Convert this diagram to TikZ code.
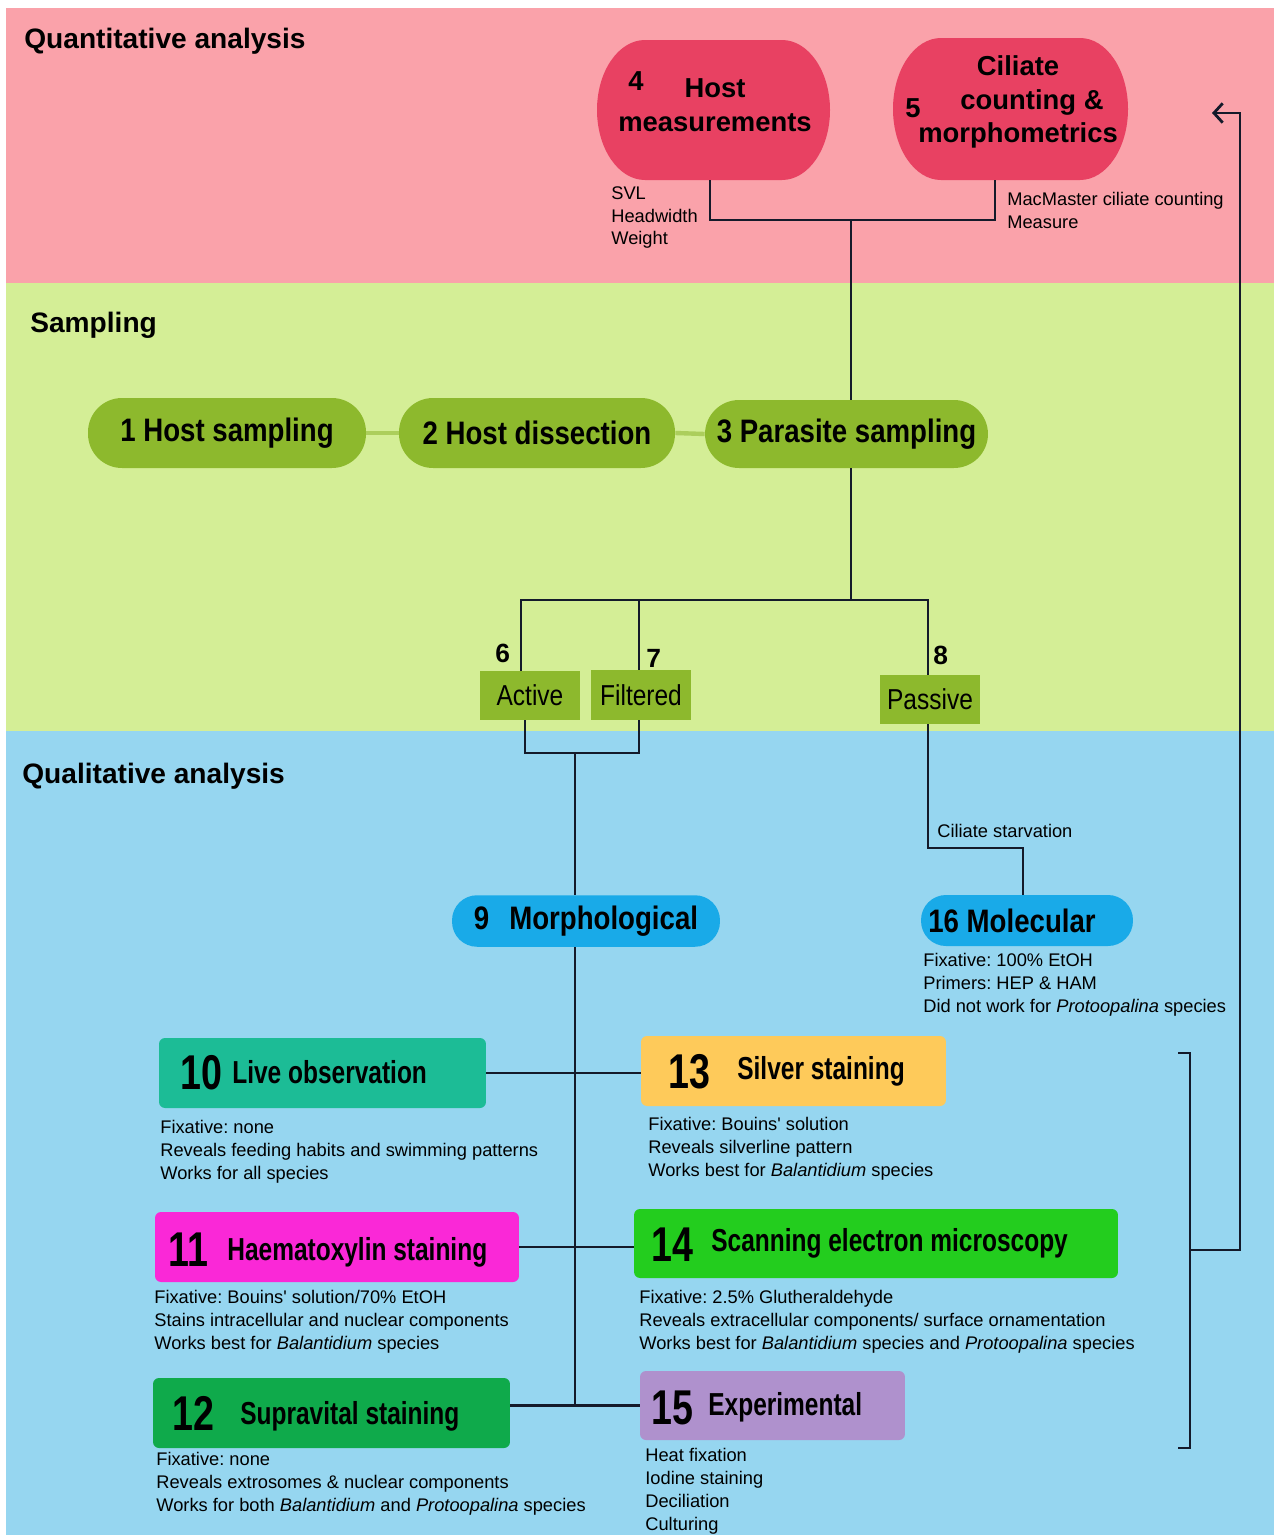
\documentclass[tikz,border=0pt]{standalone}
\usepackage{fontspec}
\setmainfont{Liberation Sans}
\newfontfamily\condA[FakeStretch=0.85]{Liberation Sans}
\newfontfamily\condB[FakeStretch=0.77]{Liberation Sans}
\usetikzlibrary{arrows.meta,calc}
\frenchspacing

\definecolor{bandq}{RGB}{250,162,170}
\definecolor{bands}{RGB}{212,238,150}
\definecolor{bandl}{RGB}{150,214,240}
\definecolor{crim}{RGB}{232,65,98}
\definecolor{olive}{RGB}{141,185,45}
\definecolor{olivelink}{RGB}{172,206,92}
\definecolor{skyb}{RGB}{25,170,232}
\definecolor{teal10}{RGB}{28,188,150}
\definecolor{gold13}{RGB}{254,202,90}
\definecolor{mag11}{RGB}{250,40,215}
\definecolor{lime14}{RGB}{35,205,30}
\definecolor{green12}{RGB}{15,170,75}
\definecolor{lav15}{RGB}{175,145,205}
\definecolor{ink}{RGB}{20,26,42}

\begin{document}
\begin{tikzpicture}[x=0.02cm,y=-0.02cm,
  link/.style={draw=ink,line width=1.6pt},
  heading/.style={anchor=base west,inner sep=0,font=\fontsize{16}{19}\selectfont\bfseries},
  note/.style={anchor=north west,inner sep=0,align=left,font=\fontsize{10.4}{13.04}\selectfont},
  qtext/.style={inner sep=0,align=center,font=\fontsize{15.6}{19.3}\selectfont\bfseries},
  qnum/.style={anchor=base west,inner sep=0,font=\fontsize{15.6}{19}\selectfont\bfseries},
  pill/.style={fill=olive,rounded corners=0.68cm,inner sep=0,minimum height=1.4cm,font=\condA\bfseries\fontsize{18.5}{22}\selectfont},
  route/.style={fill=olive,inner sep=0,minimum width=2cm,minimum height=0.98cm,font=\condA\fontsize{16.4}{19}\selectfont},
  rnum/.style={anchor=base west,inner sep=0,font=\fontsize{15}{18}\selectfont\bfseries},
  branch/.style={fill=skyb,rounded corners=0.5cm,inner sep=0,minimum height=1.03cm,font=\condA\bfseries\fontsize{18.5}{22}\selectfont},
  methodbox/.style={rounded corners=0.12cm,inner sep=0,minimum height=1.4cm},
  mnum/.style={anchor=base west,inner sep=0,font=\condB\bfseries\fontsize{27.8}{30}\selectfont},
  mtitle/.style={anchor=base west,inner sep=0,font=\condB\bfseries\fontsize{18.1}{21}\selectfont}
]
\useasboundingbox (0,0) rectangle (1274,1535);
\fill[white] (0,0) rectangle (1274,1535);

% background bands
\fill[bandq] (6,8) rectangle (1274,283);
\fill[bands] (6,283) rectangle (1274,731);
\fill[bandl] (6,731) rectangle (1274,1535);

\node[heading] (hq) at (24,48) {Quantitative analysis};
\node[heading] (hs) at (30,332) {Sampling};
\node[heading] (hl) at (22,783) {Qualitative analysis};

% quantitative analysis
\node[inner sep=0,minimum width=4.66cm,minimum height=2.8cm] (n4) at (713.5,110) {};
\node[inner sep=0,minimum width=4.7cm,minimum height=2.84cm] (n5) at (1010.5,109) {};
\fill[crim] (645,40) -- (782,40) .. controls (808.5,40) and (830,71.3) .. (830,110)
  .. controls (830,148.7) and (808.5,180) .. (782,180) -- (645,180)
  .. controls (618.5,180) and (597,148.7) .. (597,110)
  .. controls (597,71.3) and (618.5,40) .. (645,40) -- cycle;
\fill[crim] (941,38) -- (1080,38) .. controls (1106.5,38) and (1128,69.8) .. (1128,109)
  .. controls (1128,148.2) and (1106.5,180) .. (1080,180) -- (941,180)
  .. controls (914.5,180) and (893,148.2) .. (893,109)
  .. controls (893,69.8) and (914.5,38) .. (941,38) -- cycle;
\node[qnum] (k4) at (628,90) {4};
\node[qtext] (t4) at (715,105) {Host\\measurements};
\node[qnum] (k5) at (905,117) {5};
\node[qtext] (t5) at (1018,102) {Ciliate\\\hspace*{0.56cm}counting \&\\morphometrics};
\node[note] (d4) at (611,186) {SVL\\Headwidth\\Weight};
\node[note] (d5) at (1007,192) {MacMaster ciliate counting\\Measure};

% sampling
\node[pill,minimum width=5.56cm] (n1) at (227,433) {1 Host sampling};
\node[pill,minimum width=5.52cm] (n2) at (537,433) {2 Host dissection};
\node[pill,minimum width=5.66cm,minimum height=1.36cm] (n3) at (846.5,434) {3 Parasite sampling};
\draw[olivelink,line width=2.5pt] (n1.east) -- (n2.west);
\draw[olivelink,line width=2.5pt] (n2.east) -- (n3.west);

\coordinate (j45) at (851,220);
\draw[link] ([xshift=-0.07cm]n4.south) |- (j45) -| ([xshift=-0.31cm]n5.south);
\draw[link] (j45) -- (j45 |- n3.north);

\node[route] (nA) at (530,695.5) {Active};
\node[route,minimum height=1cm] (nF) at (641,695) {Filtered};
\node[route] (nP) at (930,699.5) {Passive};
\node[rnum] (k6) at (495,662) {6};
\node[rnum] (k7) at (646,667) {7};
\node[rnum] (k8) at (933,664) {8};

\coordinate (jT) at (851,600);
\draw[link] (n3.south -| jT) -- (jT);
\draw[link] (jT) -| ([xshift=-0.18cm]nA.north);
\draw[link] (jT) -| ([xshift=-0.04cm]nF.north);
\draw[link] (jT) -| ([xshift=-0.04cm]nP.north);

% qualitative analysis
\node[branch,minimum width=5.36cm] (n9) at (586,921) {9\hspace{0.4cm}Morphological};
\node[branch,minimum width=4.24cm,minimum height=1.02cm] (n16) at (1027,920.5) {16 Molecular\kern0.6cm};
\node[note] (d16) at (923,953) {Fixative: 100\% EtOH\\Primers: HEP \& HAM\\Did not work for \textit{Protoopalina} species};

\coordinate (jAF) at (575,753);
\draw[link] ([xshift=-0.1cm]nA.south) |- (jAF) -| ([xshift=-0.04cm]nF.south);
\draw[link] (jAF) -- (jAF |- n9.north);

\coordinate (cS) at (1023,848);
\draw[link] ([xshift=-0.04cm]nP.south) |- (cS) -- (cS |- n16.north);
\node[note,anchor=west] (ls) at (937,831) {Ciliate starvation};

% method boxes
\node[methodbox,fill=teal10,minimum width=6.54cm] (n10) at (322.5,1073) {};
\node[methodbox,fill=gold13,minimum width=6.1cm] (n13) at (793.5,1071) {};
\node[methodbox,fill=mag11,minimum width=7.28cm] (n11) at (337,1247) {};
\node[methodbox,fill=lime14,minimum width=9.68cm,minimum height=1.38cm] (n14) at (876,1243.5) {};
\node[methodbox,fill=green12,minimum width=7.14cm] (n12) at (331.5,1413) {};
\node[methodbox,fill=lav15,minimum width=5.3cm,minimum height=1.38cm] (n15) at (772.5,1405.5) {};

\node[mnum] (k10) at (180,1089) {10};
\node[mtitle] (t10) at (232,1083) {Live observation};
\node[mnum] (k13) at (668,1088) {13};
\node[mtitle] (t13) at (737,1079) {Silver staining};
\node[mnum] (k11) at (168,1266) {11};
\node[mtitle] (t11) at (227,1260) {Haematoxylin staining};
\node[mnum] (k14) at (651,1261) {14};
\node[mtitle] (t14) at (711,1251) {Scanning electron microscopy};
\node[mnum] (k12) at (172,1430) {12};
\node[mtitle] (t12) at (240,1424) {Supravital staining};
\node[mnum] (k15) at (651,1424) {15};
\node[mtitle] (t15) at (708,1415) {Experimental};

\node[note] (d10) at (160,1120) {Fixative: none\\Reveals feeding habits and swimming patterns\\Works for all species};
\node[note] (d13) at (648,1117) {Fixative: Bouins\textquotesingle\ solution\\Reveals silverline pattern\\Works best for \textit{Balantidium} species};
\node[note] (d11) at (154,1290) {Fixative: Bouins\textquotesingle\ solution/70\% EtOH\\Stains intracellular and nuclear components\\Works best for \textit{Balantidium} species};
\node[note] (d14) at (639,1290) {Fixative: 2.5\% Glutheraldehyde\\Reveals extracellular components/ surface ornamentation\\Works best for \textit{Balantidium} species and \textit{Protoopalina} species};
\node[note] (d12) at (156,1452) {Fixative: none\\Reveals extrosomes \& nuclear components\\Works for both \textit{Balantidium} and \textit{Protoopalina} species};
\node[note] (d15) at (645,1448) {Heat fixation\\Iodine staining\\Deciliation\\Culturing};

\coordinate (jM) at (575,1405);
\draw[link] (n9.south -| jAF) -- (jM);
\draw[link] (n10.east) -- (n10.east -| n13.west);
\draw[link] (n11.east) -- (n11.east -| n14.west);
\draw[link] (n15.west -| n12.east) -- (n15.west);

% bracket and return arrow
\coordinate (bT1) at (1178,1053);
\coordinate (bT2) at (1190,1053);
\coordinate (bB2) at (1190,1448);
\coordinate (bB1) at (1178,1448);
\coordinate (bM) at (1190,1250);
\coordinate (cR) at (1240,1250);
\coordinate (aE) at (1212,113);
\draw[link] (bT1) -- (bT2) -- (bB2) -- (bB1);
\draw[link,-{Straight Barb[length=5pt,width=11pt]}] (bM) -- (cR) |- (aE);
\end{tikzpicture}
\end{document}
